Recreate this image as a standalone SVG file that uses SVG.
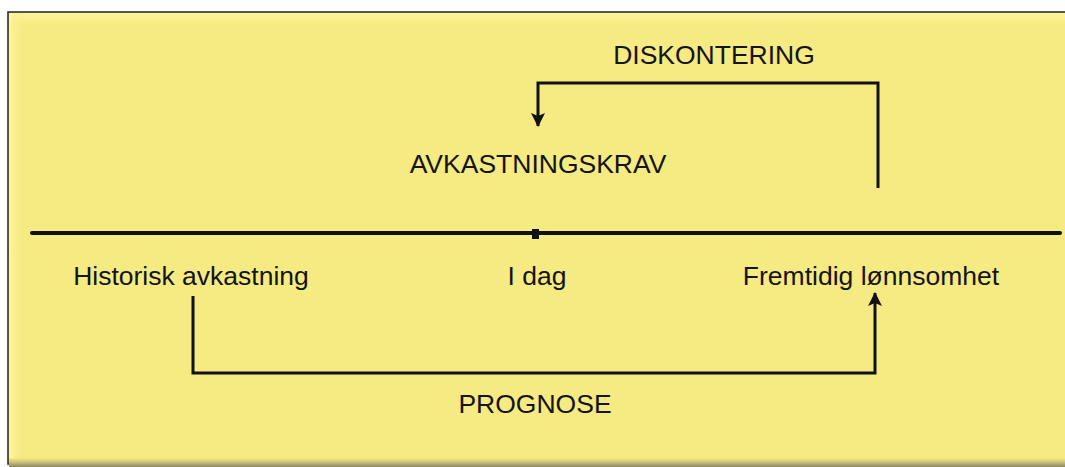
<svg xmlns="http://www.w3.org/2000/svg" width="1065" height="467" viewBox="0 0 1065 467">
  <style>
    .lbl { font-family: "Liberation Sans", Arial, sans-serif; font-size: 26.5px; fill: #141414; }
    .wire { fill: none; stroke: #111; stroke-width: 3; stroke-linejoin: miter; }
  </style>
  <defs>
    <marker id="arrow" viewBox="0 0 14 14" refX="13" refY="7" markerWidth="14" markerHeight="14" markerUnits="userSpaceOnUse" orient="auto">
      <path d="M0,0 L14,7 L0,14 L3,7 Z" fill="#111"/>
    </marker>
    <linearGradient id="edgeTop" x1="0" y1="0" x2="0" y2="1">
      <stop offset="0" stop-color="#FFF7A0"/>
      <stop offset="1" stop-color="#F6EA82" stop-opacity="0"/>
    </linearGradient>
    <linearGradient id="edgeLeft" x1="0" y1="0" x2="1" y2="0">
      <stop offset="0" stop-color="#FFF7A0"/>
      <stop offset="1" stop-color="#F6EA82" stop-opacity="0"/>
    </linearGradient>
    <linearGradient id="edgeBottom" x1="0" y1="0" x2="0" y2="1">
      <stop offset="0" stop-color="#F6EA82"/>
      <stop offset="0.5" stop-color="#C9C07A"/>
      <stop offset="1" stop-color="#8A8660"/>
    </linearGradient>
  </defs>

  <!-- background panel -->
  <rect x="0" y="0" width="1065" height="467" fill="#FFFFFF"/>
  <rect x="8" y="12" width="1070" height="452" fill="#F6EA82" stroke="#222" stroke-width="1.5"/>
  <rect x="9" y="13" width="1056" height="16" fill="url(#edgeTop)"/>
  <rect x="9" y="13" width="16" height="450" fill="url(#edgeLeft)"/>
  <rect x="9" y="458" width="1056" height="9" fill="url(#edgeBottom)"/>

  <!-- time axis -->
  <g id="axis">
    <line x1="32" y1="233" x2="1060" y2="233" stroke="#111" stroke-width="4" stroke-linecap="round"/>
    <rect x="532" y="229" width="7" height="10" fill="#111"/>
  </g>

  <!-- nodes -->
  <g id="node-diskontering">
    <text class="lbl" x="714" y="64" text-anchor="middle">DISKONTERING</text>
  </g>
  <g id="node-avkastningskrav">
    <text class="lbl" x="538" y="173" text-anchor="middle">AVKASTNINGSKRAV</text>
  </g>
  <g id="node-historisk">
    <text class="lbl" x="191" y="285" text-anchor="middle">Historisk avkastning</text>
  </g>
  <g id="node-idag">
    <text class="lbl" x="537" y="285" text-anchor="middle">I dag</text>
  </g>
  <g id="node-fremtidig">
    <text class="lbl" x="871" y="285" text-anchor="middle">Fremtidig lønnsomhet</text>
  </g>
  <g id="node-prognose">
    <text class="lbl" x="535" y="413" text-anchor="middle">PROGNOSE</text>
  </g>

  <!-- connectors -->
  <g id="connectors">
    <path class="wire" d="M878,188 L878,83 L538,83 L538,126" marker-end="url(#arrow)"/>
    <path class="wire" d="M193,296 L193,373 L875,373 L875,293" marker-end="url(#arrow)"/>
  </g>
</svg>
